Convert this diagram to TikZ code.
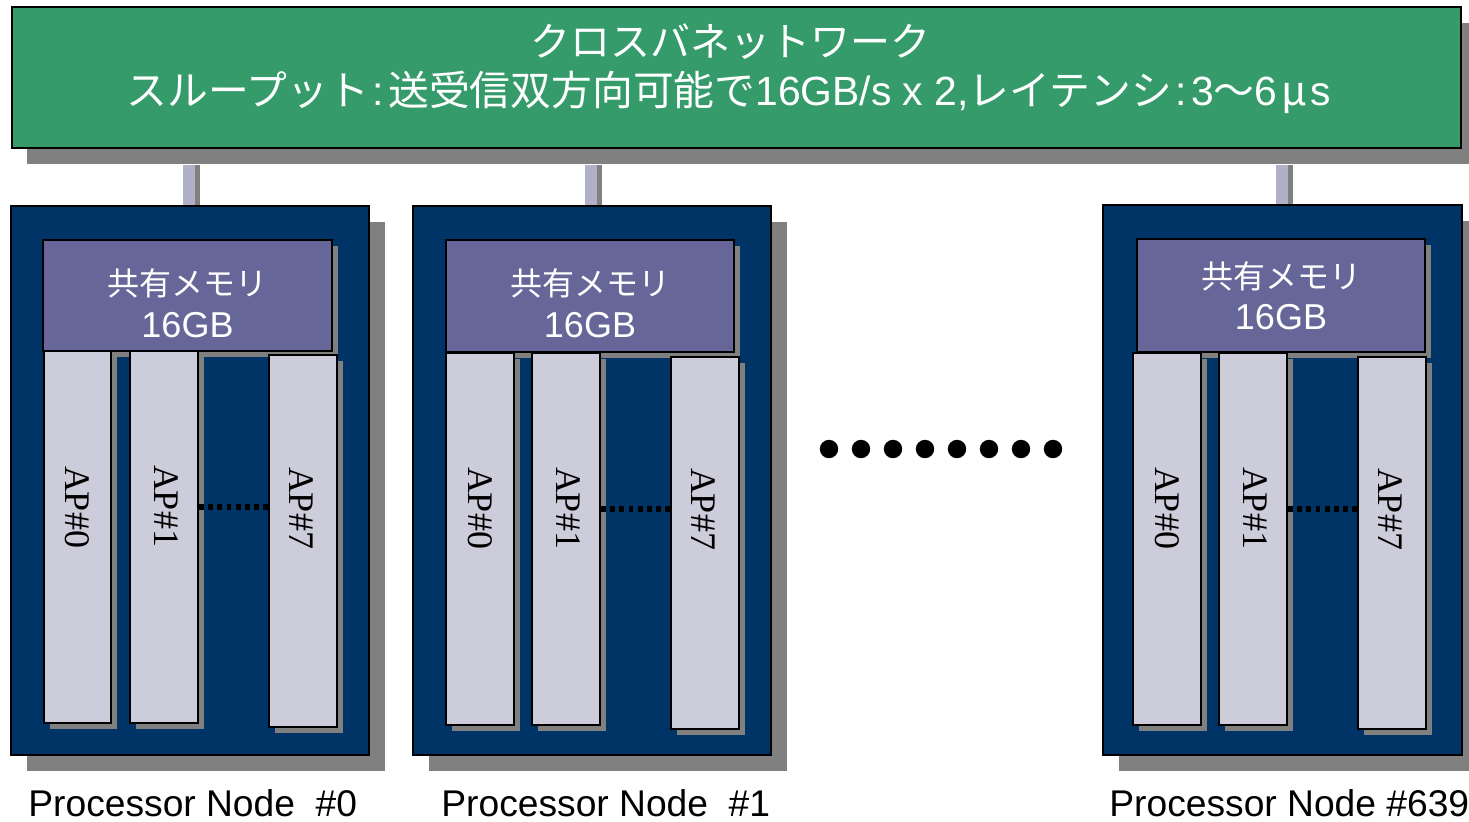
\documentclass[tikz,border=0pt]{standalone}
\usepackage{fontspec}
\setmainfont{Liberation Sans}
\newfontfamily\cjk{Noto Sans CJK JP}
\newfontfamily\apfont{Liberation Serif}
\usetikzlibrary{fit,shadows}
\definecolor{netgreen}{RGB}{54,155,106}
\definecolor{navy}{RGB}{0,51,102}
\definecolor{memcol}{RGB}{102,102,153}
\definecolor{apcol}{RGB}{204,204,218}
\definecolor{shadowgrey}{RGB}{128,128,128}
\definecolor{conncol}{RGB}{176,176,198}
\begin{document}
\begin{tikzpicture}[x=0.5pt,y=-0.5pt,
  netbox/.style={draw=black, line width=1pt, fill=netgreen, inner sep=0pt,
    drop shadow={shadow xshift=7.5pt, shadow yshift=-8pt, fill=shadowgrey, opacity=1}},
  pnode/.style={draw=black, line width=1pt, fill=navy, inner sep=0pt,
    drop shadow={shadow xshift=8pt, shadow yshift=-8pt, fill=shadowgrey, opacity=1}},
  membox/.style={draw=black, line width=1pt, fill=memcol, inner sep=0pt,
    drop shadow={shadow xshift=3pt, shadow yshift=-3pt, fill=shadowgrey, opacity=1}},
  apbox/.style={draw=black, line width=1pt, fill=apcol, inner sep=0pt,
    drop shadow={shadow xshift=3.2pt, shadow yshift=-3.2pt, fill=shadowgrey, opacity=1}},
  aptext/.style={font=\apfont\fontsize{18pt}{20pt}\selectfont, rotate=-90, inner sep=0pt},
  memtext/.style={text=white, inner sep=0pt},
  titletext/.style={text=white, inner sep=0pt},
  pnlabel/.style={font=\fontsize{18.6pt}{20pt}\selectfont, anchor=base west, inner sep=0pt},
  dotline/.style={draw=black, line width=3pt, dash pattern=on 2.4pt off 2.2pt},
  connshadow/.style={draw=shadowgrey, line width=8.5pt},
  connline/.style={draw=conncol, line width=6pt},
  bigdot/.style={fill=black}
]
\useasboundingbox (0,0) rectangle (1469,821);

% connectors (drawn first, behind the boxes)
\coordinate (c0s) at (191.5,165); \coordinate (c0e) at (191.5,206);
\coordinate (c0a) at (189,165);   \coordinate (c0b) at (189,206);
\coordinate (c1s) at (593.5,165); \coordinate (c1e) at (593.5,206);
\coordinate (c1a) at (591,165);   \coordinate (c1b) at (591,206);
\coordinate (c2s) at (1284.5,165); \coordinate (c2e) at (1284.5,206);
\coordinate (c2a) at (1282,165);   \coordinate (c2b) at (1282,206);
\draw[connshadow] (c0s) -- (c0e);
\draw[connline] (c0a) -- (c0b);
\draw[connshadow] (c1s) -- (c1e);
\draw[connline] (c1a) -- (c1b);
\draw[connshadow] (c2s) -- (c2e);
\draw[connline] (c2a) -- (c2b);

% crossbar network
\node[netbox, fit={(12,7) (1461,148)}] (net) {};
\node[titletext] (t1) at (730,42) {\fontsize{20pt}{24pt}\selectfont\cjk クロスバネットワーク};
\node[titletext] (t2) at (729,92) {\fontsize{20.4pt}{24pt}\selectfont{\cjk スループット}\kern2pt:\kern2pt{\cjk 送受信双方向可能で}16GB/s x 2,{\cjk レイテンシ}\kern2pt:\kern2pt 3{\cjk 〜}6\kern2pt{\cjk μ}\kern2pt s};

% ---------- Processor node #0
\node[pnode, fit={(11,206) (369,755)}] (n0) {};
\node[membox, fit={(43,240) (332,351)}] (n0mem) {};
\node[memtext] (n0m1) at (187.5,283) {\fontsize{16pt}{18pt}\selectfont\cjk 共有メモリ};
\node[memtext] (n0m2) at (187.5,325) {\fontsize{18pt}{20pt}\selectfont 16GB};
\node[apbox, fit={(44,351) (111,723)}] (n0ap0) {};
\node[apbox, fit={(130,351) (198,723)}] (n0ap1) {};
\node[apbox, fit={(269,355) (337,727)}] (n0ap7) {};
\node[aptext] (n0t0) at (77.5,507) {AP\#0};
\node[aptext] (n0t1) at (166,506) {AP\#1};
\node[aptext] (n0t7) at (301,508) {AP\#7};
\coordinate (d0) at (0,507);
\draw[dotline] (n0ap1.east |- d0) -- (n0ap7.west |- d0);
\node[pnlabel] (l0) at (28,816) {Processor Node\ \ \#0};

% ---------- Processor node #1
\node[pnode, fit={(413,206) (771,755)}] (n1) {};
\node[membox, fit={(446,240) (734,352)}] (n1mem) {};
\node[memtext] (n1m1) at (590,283) {\fontsize{16pt}{18pt}\selectfont\cjk 共有メモリ};
\node[memtext] (n1m2) at (590,325) {\fontsize{18pt}{20pt}\selectfont 16GB};
\node[apbox, fit={(446,353) (514,725)}] (n1ap0) {};
\node[apbox, fit={(532,353) (600,725)}] (n1ap1) {};
\node[apbox, fit={(671,357) (739,729)}] (n1ap7) {};
\node[aptext] (n1t0) at (480,508) {AP\#0};
\node[aptext] (n1t1) at (568,508) {AP\#1};
\node[aptext] (n1t7) at (703,509) {AP\#7};
\coordinate (d1) at (0,509);
\draw[dotline] (n1ap1.east |- d1) -- (n1ap7.west |- d1);
\node[pnlabel] (l1) at (441,816) {Processor Node\ \ \#1};

% ---------- ellipsis dots
\foreach \i in {0,...,7} {
  \fill[bigdot] (829+32*\i,449) circle [radius=4.6pt];
}

% ---------- Processor node #639
\node[pnode, fit={(1103,205) (1462,755)}] (n2) {};
\node[membox, fit={(1137,239) (1425,352)}] (n2mem) {};
\node[memtext] (n2m1) at (1281,276) {\fontsize{16pt}{18pt}\selectfont\cjk 共有メモリ};
\node[memtext] (n2m2) at (1281,317) {\fontsize{18pt}{20pt}\selectfont 16GB};
\node[apbox, fit={(1133,353) (1201,725)}] (n2ap0) {};
\node[apbox, fit={(1219,353) (1287,725)}] (n2ap1) {};
\node[apbox, fit={(1358,357) (1426,729)}] (n2ap7) {};
\node[aptext] (n2t0) at (1167,508) {AP\#0};
\node[aptext] (n2t1) at (1255,508) {AP\#1};
\node[aptext] (n2t7) at (1390,509) {AP\#7};
\coordinate (d2) at (0,509);
\draw[dotline] (n2ap1.east |- d2) -- (n2ap7.west |- d2);
\node[pnlabel] (l2) at (1109,816) {Processor Node \#639};
\end{tikzpicture}
\end{document}
